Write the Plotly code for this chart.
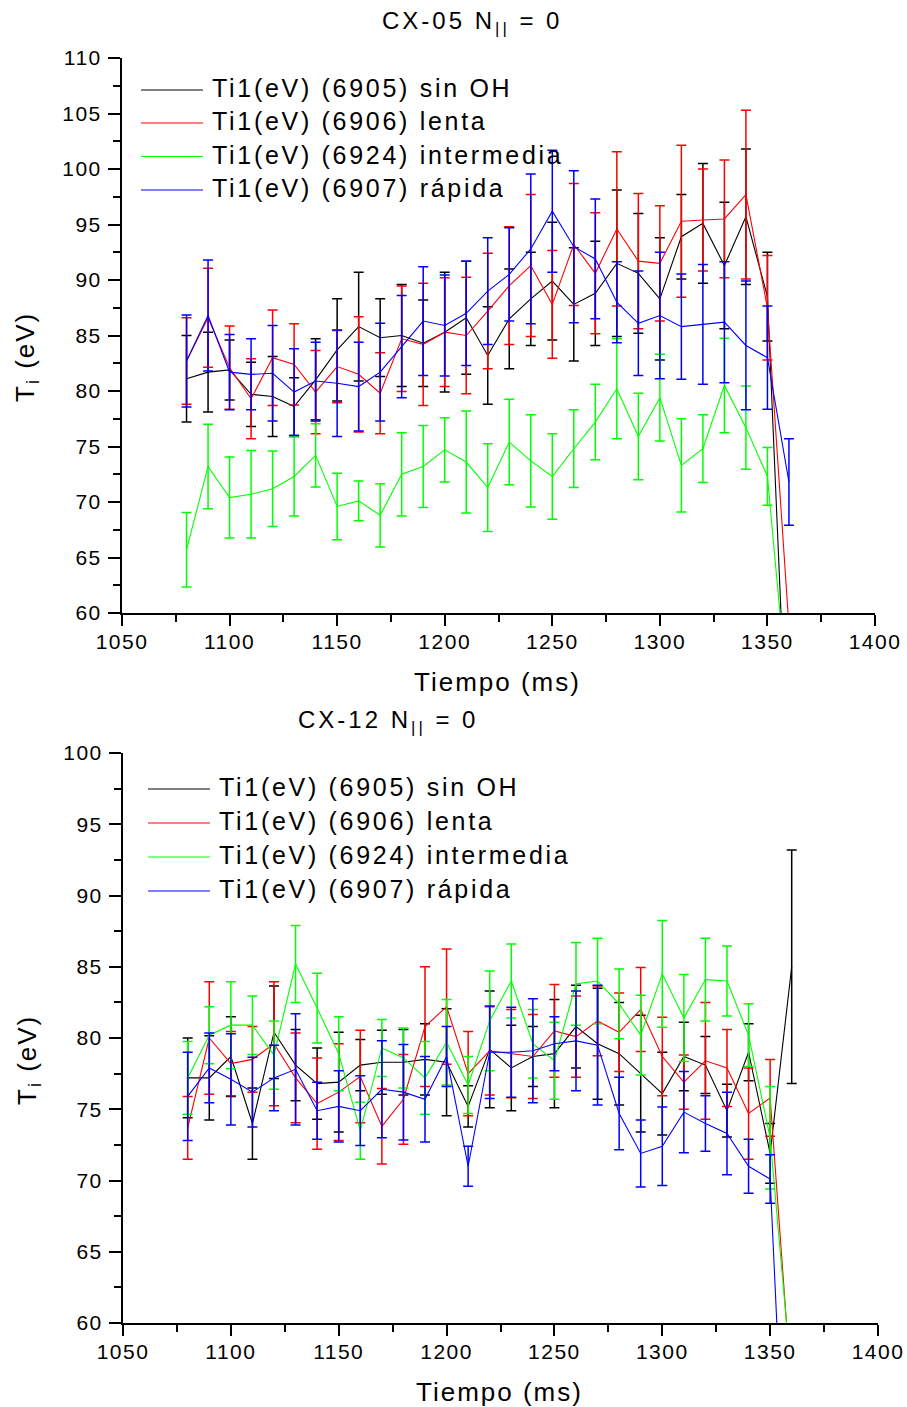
import plotly.graph_objects as go

W, H = 907, 1407
FONT = "Liberation Sans, Arial, sans-serif"

# ---------------- data ----------------
tiempo = [1080, 1090, 1100, 1110, 1120, 1130, 1140, 1150, 1160, 1170,
          1180, 1190, 1200, 1210, 1220, 1230, 1240, 1250, 1260, 1270,
          1280, 1290, 1300, 1310, 1320, 1330, 1340, 1350, 1360]

series_names = ["Ti1(eV) (6905) sin OH", "Ti1(eV) (6906) lenta",
                "Ti1(eV) (6924) intermedia", "Ti1(eV) (6907) rápida"]
series_colors = ["#000000", "#ff0000", "#00ff00", "#0000ff"]

# CX-05 (top panel)
cx05_sinoh = [81.1, 81.7, 81.9, 79.7, 79.5, 78.6, 81.0, 83.7, 85.8, 84.8,
              85.0, 84.3, 85.3, 86.6, 83.2, 86.5, 88.3, 89.9, 87.8, 88.8,
              91.5, 90.6, 88.3, 93.9, 95.1, 91.3, 95.7, 88.5, 43.3]
cx05_sinoh_err = [3.9, 3.6, 2.7, 2.9, 3.6, 2.6, 3.7, 4.6, 4.9, 3.5,
                  4.6, 3.9, 5.4, 5.1, 4.4, 4.5, 4.2, 5.3, 5.1, 4.7,
                  6.6, 5.4, 5.5, 3.8, 5.4, 5.7, 6.1, 4.0, None]
cx05_lenta = [82.7, 86.6, 82.1, 79.3, 83.0, 82.4, 79.9, 82.2, 81.5, 79.8,
              84.7, 84.2, 85.3, 85.0, 87.2, 89.5, 91.3, 87.8, 93.2, 90.6,
              94.6, 91.7, 91.5, 95.3, 95.4, 95.5, 97.7, 87.5, 58.8]
cx05_lenta_err = [3.9, 4.45, 3.75, 3.6, 4.3, 3.65, 3.75, 3.25, 5.2, 3.65,
                  4.75, 5.5, 4.9, 5.25, 5.2, 5.3, 6.4, 4.85, 5.5, 5.45,
                  6.95, 6.1, 5.2, 6.85, 4.6, 5.3, 7.6, 4.7, None]
cx05_intermedia = [65.7, 73.2, 70.4, 70.7, 71.2, 72.3, 74.2, 69.6, 70.1, 68.8,
                   72.5, 73.2, 74.7, 73.6, 71.3, 75.4, 73.7, 72.3, 74.8, 77.2,
                   80.2, 75.9, 79.4, 73.3, 74.8, 80.5, 76.7, 72.3, 51.2]
cx05_intermedia_err = [3.35, 3.8, 3.65, 3.95, 3.4, 3.55, 2.85, 3.0, 1.8, 2.85,
                       3.75, 3.7, 2.9, 4.6, 3.95, 3.85, 4.15, 3.85, 3.5, 3.4,
                       4.5, 3.9, 3.9, 4.2, 3.05, 4.25, 3.75, 2.6, None]
cx05_rapida = [82.7, 86.8, 81.7, 81.5, 81.6, 79.9, 80.9, 80.7, 80.4, 81.7,
               84.0, 86.3, 85.9, 87.0, 89.0, 90.5, 92.8, 96.2, 93.0, 91.9,
               88.0, 86.1, 86.8, 85.8, 86.0, 86.2, 84.1, 83.0, 71.8]
cx05_rapida_err = [4.15, 5.0, 3.4, 3.2, 4.3, 3.9, 3.5, 4.8, 4.0, 4.4,
                   4.6, 4.9, 4.55, 4.7, 4.8, 4.2, 6.75, 5.5, 6.85, 5.4,
                   3.65, 4.7, 5.7, 4.75, 5.4, 5.45, 5.8, 4.65, 3.9]

# CX-12 (bottom panel)
cx12_sinoh = [77.2, 77.2, 78.7, 74.0, 80.4, 78.1, 76.8, 76.9, 78.1, 78.3,
              78.3, 78.5, 78.3, 75.2, 79.2, 77.9, 78.7, 78.9, 80.8, 79.6,
              78.9, 77.5, 76.1, 78.7, 78.1, 74.9, 79.0, 71.9, 85.0]
cx12_sinoh_err = [2.8, 2.95, 2.8, 2.5, 3.25, 2.5, 2.5, 3.5, 1.8, 2.25,
                  2.3, 2.5, 3.75, 1.45, 4.1, 3.0, 2.1, 3.8, 2.9, 3.9,
                  3.6, 4.1, 2.9, 2.4, 2.0, 1.85, 2.0, 2.1, 8.2]
cx12_lenta = [73.7, 80.0, 78.2, 78.5, 79.6, 77.2, 75.4, 76.2, 77.3, 73.8,
              75.7, 80.8, 82.2, 77.5, 79.1, 78.9, 78.7, 80.5, 80.1, 81.2,
              80.4, 82.0, 78.7, 76.9, 78.4, 77.9, 74.7, 75.8, 55.0]
cx12_lenta_err = [2.2, 3.95, 2.25, 2.3, 4.35, 3.15, 3.2, 3.4, 3.25, 2.65,
                  3.15, 4.2, 4.05, 2.95, 3.1, 3.1, 2.95, 3.25, 2.85, 2.45,
                  2.75, 2.95, 2.75, 1.9, 4.1, 2.7, 3.2, 2.7, None]
cx12_intermedia = [77.2, 80.2, 80.9, 80.9, 78.8, 85.2, 82.1, 78.9, 73.5, 79.3,
                   78.6, 77.2, 79.7, 76.7, 81.2, 84.0, 79.6, 78.4, 83.8, 84.0,
                   82.4, 80.2, 84.5, 81.4, 84.1, 84.0, 80.2, 73.0, 55.9]
cx12_intermedia_err = [2.55, 2.0, 3.05, 2.05, 2.4, 2.7, 2.45, 2.6, 2.0, 2.0,
                       2.1, 2.55, 3.0, 2.0, 3.5, 2.6, 2.4, 2.7, 2.9, 3.0,
                       2.45, 2.8, 3.75, 3.05, 2.9, 2.45, 2.2, 3.6, None]
cx12_rapida = [75.9, 77.9, 77.1, 76.2, 77.2, 77.8, 74.9, 75.2, 74.9, 76.4,
               76.2, 75.7, 78.7, 71.0, 79.0, 79.0, 79.1, 79.6, 79.8, 79.5,
               74.7, 71.9, 72.4, 74.8, 74.0, 73.3, 71.0, 70.1, 37.5]
cx12_rapida_err = [3.1, 2.45, 3.2, 2.45, 2.3, 3.9, 2.0, 2.5, 2.45, 3.4,
                   3.35, 3.0, 2.1, 1.4, 3.25, 3.15, 3.65, 1.9, 3.5, 4.2,
                   2.55, 2.35, 2.75, 2.85, 1.95, 2.9, 1.9, 1.7, None]

x_ticks = [1050, 1100, 1150, 1200, 1250, 1300, 1350, 1400]
y_ticks_top = [60, 65, 70, 75, 80, 85, 90, 95, 100, 105, 110]
y_ticks_bot = [60, 65, 70, 75, 80, 85, 90, 95, 100]

top_values = [(cx05_sinoh, cx05_sinoh_err), (cx05_lenta, cx05_lenta_err),
              (cx05_intermedia, cx05_intermedia_err), (cx05_rapida, cx05_rapida_err)]
bot_values = [(cx12_sinoh, cx12_sinoh_err), (cx12_lenta, cx12_lenta_err),
              (cx12_intermedia, cx12_intermedia_err), (cx12_rapida, cx12_rapida_err)]

# ---------------- figure ----------------
fig = go.Figure()


def add_panel(values, xa, ya):
    for (vals, errs), name, col in zip(values, series_names, series_colors):
        fig.add_trace(go.Scatter(
            x=tiempo, y=vals, mode="lines", name=name, showlegend=False,
            line=dict(color=col, width=1.1),
            error_y=dict(type="data", array=errs, symmetric=True, color=col,
                         thickness=1.5, width=5),
            xaxis=xa, yaxis=ya))


add_panel(top_values, "x", "y")
add_panel(bot_values, "x2", "y2")


def sp(text, s):
    return f'<span style="letter-spacing:{s}px">{text}</span>'


def px_x(p):
    return p / W


def px_y(p):
    return 1 - p / H


tickfont = dict(family=FONT, size=21, color="black")
common_x = dict(showline=True, linecolor="black", linewidth=2, ticks="outside",
                ticklen=11, tickwidth=2, tickcolor="black", showgrid=False,
                zeroline=False, automargin=False, range=[1050, 1400],
                tickvals=x_ticks, ticktext=[sp(v, 1.5) for v in x_ticks],
                tickfont=tickfont, ticklabelstandoff=-2,
                minor=dict(dtick=25, tick0=1050, ticks="outside", ticklen=7,
                           tickwidth=2, tickcolor="black", showgrid=False))
common_y = dict(showline=True, linecolor="black", linewidth=2, ticks="outside",
                ticklen=12, tickwidth=2, tickcolor="black", showgrid=False,
                zeroline=False, automargin=False, tickfont=tickfont,
                ticklabelstandoff=2,
                minor=dict(dtick=2.5, tick0=60, ticks="outside", ticklen=7,
                           tickwidth=2, tickcolor="black", showgrid=False))

fig.update_layout(
    width=W, height=H, margin=dict(l=0, r=0, t=0, b=0, autoexpand=False),
    paper_bgcolor="white", plot_bgcolor="white", showlegend=False,
    xaxis=dict(common_x, domain=[px_x(122), px_x(875)], anchor="y"),
    yaxis=dict(common_y, domain=[px_y(613), px_y(58)], anchor="x",
               range=[60, 110], tickvals=y_ticks_top,
               ticktext=[sp(v, 1.5) for v in y_ticks_top]),
    xaxis2=dict(common_x, domain=[px_x(123), px_x(878)], anchor="y2"),
    yaxis2=dict(common_y, domain=[px_y(1323), px_y(753)], anchor="x2",
                range=[60, 100], tickvals=y_ticks_bot,
                ticktext=[sp(v, 1.5) for v in y_ticks_bot]),
)

annotations = []
shapes = []


def ann(text, x, y, size, spacing, xanchor="center", **kw):
    annotations.append(dict(
        text=sp(text, spacing), x=px_x(x), y=px_y(y), xref="paper", yref="paper",
        showarrow=False, xanchor=xanchor, yanchor="middle",
        font=dict(family=FONT, size=size, color="black"), **kw))


# titles and axis titles
ann("CX-05 N<sub>||</sub> = 0", 472, 22, 24, 3)
ann("CX-12 N<sub>||</sub> = 0", 388, 721, 24, 3)
ann("Tiempo (ms)", 497, 682, 26, 2)
ann("Tiempo (ms)", 499, 1392, 26, 2)
ann("T<sub>i</sub> (eV)", 26, 357, 26, 2, textangle=-90)
ann("T<sub>i</sub> (eV)", 28, 1060, 26, 2, textangle=-90)

# legends
legend_rows_top = [90, 123, 156.5, 190]
legend_rows_bot = [789, 823, 857, 891]
for rows, x0, x1, xt in [(legend_rows_top, 141, 203, 210),
                         (legend_rows_bot, 148, 210, 217)]:
    for yrow, name, col in zip(rows, series_names, series_colors):
        shapes.append(dict(type="line", xref="paper", yref="paper",
                           x0=px_x(x0), x1=px_x(x1), y0=px_y(yrow), y1=px_y(yrow),
                           line=dict(color=col, width=1)))
        ann(name, xt, yrow - 2, 25, 2.7, xanchor="left")

fig.update_layout(annotations=annotations, shapes=shapes)

fig.write_html("out.html", config={"displayModeBar": False},
               post_script="document.body.style.margin='0';"
                           "document.body.style.padding='0';")
